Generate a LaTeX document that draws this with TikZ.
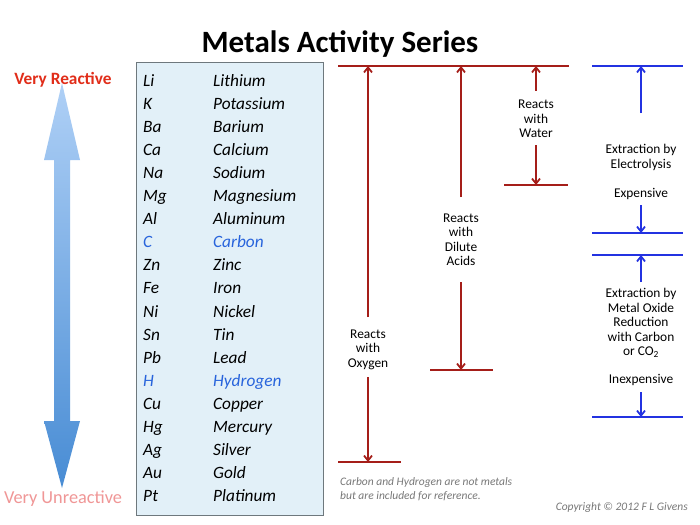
\documentclass[tikz,border=0pt]{standalone}
\usepackage{fontspec}
\setmainfont{Carlito}
\usetikzlibrary{arrows.meta}
\definecolor{dred}{RGB}{165,30,25}
\definecolor{dblue}{RGB}{35,50,225}
\definecolor{hired}{RGB}{225,45,25}
\definecolor{pinkc}{RGB}{240,150,150}
\definecolor{boxfill}{RGB}{226,240,248}
\definecolor{boxline}{RGB}{110,120,125}
\definecolor{elblue}{RGB}{40,100,220}
\definecolor{notegray}{RGB}{120,120,120}
\begin{document}
\begin{tikzpicture}[x=1pt,y=-1pt,
  elem/.style={font=\fontsize{17.3}{20}\selectfont\itshape,anchor=base west,inner sep=0pt},
  lab/.style={font=\fontsize{13.4}{14.5}\selectfont,align=center,inner sep=0pt},
  rline/.style={draw=dred,line width=1.8pt},
  bline/.style={draw=dblue,line width=1.8pt},
  rarr/.style={rline,-{Straight Barb[length=5pt,width=8pt]}},
  barr/.style={bline,-{Straight Barb[length=5pt,width=8pt]}},
  note/.style={font=\fontsize{11.5}{13.5}\selectfont\itshape,text=notegray,inner sep=0pt}]
\useasboundingbox[fill=white] (0,0) rectangle (700,524);
% title
\node[font=\fontsize{31}{34}\selectfont\bfseries,inner sep=0pt] (title) at (340,44) {Metals Activity Series};
% left side
\node[font=\fontsize{17.3}{19}\selectfont\bfseries,text=hired,inner sep=0pt] (vr) at (63,80) {Very Reactive};
\node[font=\fontsize{18.3}{20}\selectfont,text=pinkc,inner sep=0pt] (vu) at (63,499) {Very Unreactive};
\shade[top color={rgb,255:red,175;green,208;blue,246},bottom color={rgb,255:red,72;green,140;blue,212}]
  (62,83) -- (80,160) -- (70,160) -- (70,421) -- (80,421) -- (62,488) -- (44,421) -- (54,421) -- (54,160) -- (44,160) -- cycle;
% box
\draw[fill=boxfill,draw=boxline,line width=0.8pt] (136,62) rectangle (323,515);
\foreach \s/\n/\c [count=\i from 0] in {Li/Lithium/black,K/Potassium/black,Ba/Barium/black,Ca/Calcium/black,Na/Sodium/black,Mg/Magnesium/black,Al/Aluminum/black,C/Carbon/elblue,Zn/Zinc/black,Fe/Iron/black,Ni/Nickel/black,Sn/Tin/black,Pb/Lead/black,H/Hydrogen/elblue,Cu/Copper/black,Hg/Mercury/black,Ag/Silver/black,Au/Gold/black,Pt/Platinum/black}{
  \node[elem,text=\c] (s\i) at (143,86.5+23.05*\i) {\s};
  \node[elem,text=\c] (n\i) at (213,86.5+23.05*\i) {\n};
}
% red reactions
\coordinate (rt1) at (338,66); \coordinate (rt2) at (569,66);
\draw[rline] (rt1) -- (rt2);
% oxygen
\node[lab] (oxy) at (368,349.5) {Reacts\\with\\Oxygen};
\coordinate (oxyT) at (368,66); \coordinate (oxyB) at (368,462);
\draw[rarr] (368,317) -- (oxyT);
\draw[rarr] (368,377) -- (oxyB);
\coordinate (ob1) at (338,462); \coordinate (ob2) at (401,462);
\draw[rline] (ob1) -- (ob2);
% dilute acids
\node[lab] (acid) at (461,239.5) {Reacts\\with\\Dilute\\Acids};
\coordinate (acT) at (461,66); \coordinate (acB) at (461,370);
\draw[rarr] (461,197) -- (acT);
\draw[rarr] (461,282) -- (acB);
\coordinate (ab1) at (430,370); \coordinate (ab2) at (493,370);
\draw[rline] (ab1) -- (ab2);
% water
\node[lab] (wat) at (536,119) {Reacts\\with\\Water};
\coordinate (wT) at (536,66); \coordinate (wB) at (536,185);
\draw[rarr] (536,91) -- (wT);
\draw[rarr] (536,145) -- (wB);
\coordinate (wb1) at (504,185); \coordinate (wb2) at (568,185);
\draw[rline] (wb1) -- (wb2);
% blue extraction
\coordinate (b1a) at (592,66); \coordinate (b1b) at (683,66);
\draw[bline] (b1a) -- (b1b);
\node[lab] (elec) at (641,157.5) {Extraction by\\Electrolysis};
\node[lab] (exp) at (641,194) {Expensive};
\coordinate (eT) at (641,66); \coordinate (eB) at (641,233);
\draw[barr] (641,113) -- (eT);
\draw[barr] (641,205) -- (eB);
\coordinate (b2a) at (592,233); \coordinate (b2b) at (683,233);
\draw[bline] (b2a) -- (b2b);
\coordinate (b3a) at (592,255); \coordinate (b3b) at (683,255);
\draw[bline] (b3a) -- (b3b);
\node[lab] (red) at (641,323) {Extraction by\\Metal Oxide\\Reduction\\with Carbon\\or CO\textsubscript{2}};
\node[lab] (inexp) at (641,380) {Inexpensive};
\coordinate (rT) at (641,255); \coordinate (rB) at (641,417);
\draw[barr] (641,282) -- (rT);
\draw[barr] (641,392) -- (rB);
\coordinate (b4a) at (592,417); \coordinate (b4b) at (683,417);
\draw[bline] (b4a) -- (b4b);
% notes
\node[note,anchor=west,align=left] (nt) at (340,489) {Carbon and Hydrogen are not metals\\but are included for reference.};
\node[note,anchor=east] (copy) at (688,507) {Copyright © 2012 F L Givens};
\end{tikzpicture}
\end{document}
